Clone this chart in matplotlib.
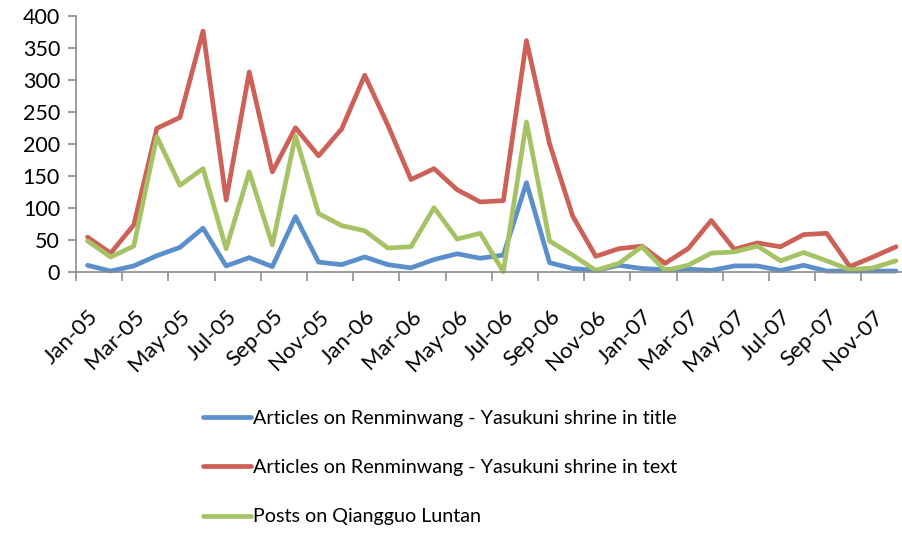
import numpy as np
import matplotlib.pyplot as plt
from matplotlib.lines import Line2D

plt.rcParams['font.family'] = ['Lato', 'DejaVu Sans']

months = ['Jan', 'Feb', 'Mar', 'Apr', 'May', 'Jun',
          'Jul', 'Aug', 'Sep', 'Oct', 'Nov', 'Dec']
labels = [f"{m}-{y}" for y in ['05', '06', '07'] for m in months]

# values
title_articles = [10, 1, 9, 25, 38, 68, 9, 22, 8, 86, 15, 11,
                  23, 11, 6, 19, 28, 21, 26, 139, 14, 5, 2, 10,
                  5, 3, 4, 2, 9, 9, 2, 10, 1, 1, 1, 1]
text_articles = [54, 29, 73, 224, 241, 376, 112, 312, 156, 225, 181, 223,
                 307, 229, 144, 161, 128, 109, 111, 361, 200, 87, 24, 36,
                 40, 13, 36, 80, 35, 45, 39, 58, 60, 8, 23, 39]
forum_posts = [48, 23, 40, 211, 135, 161, 36, 156, 42, 212, 91, 72,
               64, 37, 39, 100, 51, 60, 0, 234, 48, 26, 2, 13,
               39, 2, 10, 29, 31, 40, 17, 30, 17, 3, 6, 17]

series_names = ['Articles on Renminwang - Yasukuni shrine in title',
                'Articles on Renminwang - Yasukuni shrine in text',
                'Posts on Qiangguo Luntan']
colors = ['#5A8FCB', '#CD6057', '#A5C364']

fig = plt.figure(figsize=(9.03, 5.33), dpi=100)
ax = fig.add_axes([76 / 903, 1 - 271.7 / 533, 831.6 / 903, 256 / 533])

x = np.arange(len(labels))
for vals, c in zip([title_articles, text_articles, forum_posts], colors):
    ax.plot(x, vals, color=c, lw=3.4, solid_joinstyle='round',
            solid_capstyle='round', clip_on=False)

ax.set_xlim(-0.5, len(labels) - 0.5)
ax.set_ylim(0, 400)
ax.set_yticks(np.arange(0, 401, 50))

ax.set_xticks(x[::2])
ax.set_xticklabels(labels[::2], rotation=45, ha='right', va='top',
                   rotation_mode='anchor', fontsize=16)
ax.set_xticks(np.arange(-0.5, len(labels), 2), minor=True)
ax.tick_params(axis='x', which='major', length=0, pad=25)
ax.tick_params(axis='x', which='minor', length=6.5, width=1.2, color='#8C8C8C')
ax.tick_params(axis='y', length=6, width=1.2, color='#8C8C8C', pad=5.5,
               labelsize=15.5)

for s in ['top', 'right']:
    ax.spines[s].set_visible(False)
for s in ['left', 'bottom']:
    ax.spines[s].set_color('#8C8C8C')
    ax.spines[s].set_linewidth(1.2)

handles = [Line2D([], [], color=c, lw=3.4, solid_capstyle='round') for c in colors]
fig.legend(handles, series_names, loc='upper left',
           bbox_to_anchor=(185 / 903, 1 - 392 / 533), frameon=False,
           fontsize=14.2, handlelength=2.45, handletextpad=0.1,
           labelspacing=1.64)

fig.savefig('out.png', dpi=100)
